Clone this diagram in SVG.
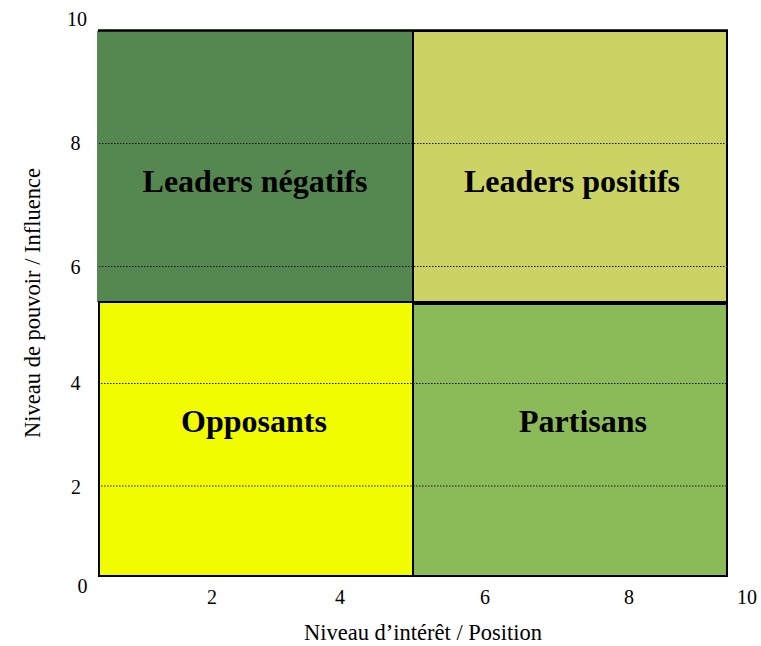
<svg xmlns="http://www.w3.org/2000/svg" width="761" height="646" viewBox="0 0 761 646">
<style>
.q{stroke:#000;stroke-width:2}
.grid{stroke:#1a1a1a;stroke-width:1;stroke-dasharray:1.5 1.5;fill:none}
.lbl{font-family:"Liberation Serif",serif;font-weight:bold;font-size:32px;fill:#000;text-anchor:middle}
.tick{font-family:"Liberation Serif",serif;font-weight:normal;font-size:20px;fill:#000;text-anchor:middle}
.axis{font-family:"Liberation Serif",serif;font-weight:normal;font-size:22.5px;fill:#000;text-anchor:middle}
</style>
<rect width="761" height="646" fill="#fff"/>
<g id="leaders-negatifs">
<rect x="97" y="31" width="316" height="271" fill="#558751"/>
<text class="lbl" x="255" y="192">Leaders négatifs</text>
</g>
<g id="leaders-positifs">
<rect class="q" x="413" y="31" width="314" height="271" fill="#ccd365"/>
<text class="lbl" x="572" y="192">Leaders positifs</text>
</g>
<g id="opposants">
<rect class="q" x="99" y="302" width="314" height="274" fill="#f2fc00"/>
<text class="lbl" x="254" y="432">Opposants</text>
</g>
<g id="partisans">
<rect class="q" x="413" y="304" width="314" height="272" fill="#8bba58"/>
<text class="lbl" x="583" y="432">Partisans</text>
</g>
<g id="frame">
<line x1="98" y1="30.5" x2="728" y2="30.5" stroke="#000" stroke-width="2.5"/>
<line x1="413" y1="30" x2="413" y2="577" stroke="#000" stroke-width="2"/>
<line x1="99" y1="302" x2="728" y2="302" stroke="#000" stroke-width="2"/>
</g>
<g id="gridlines">
<line class="grid" x1="99" y1="143.5" x2="728" y2="143.5"/>
<line class="grid" x1="99" y1="266.5" x2="728" y2="266.5"/>
<line class="grid" x1="101" y1="383.5" x2="726" y2="383.5"/>
<line class="grid" x1="101" y1="486" x2="726" y2="486"/>
</g>
<g id="y-ticks">
<text class="tick" x="77" y="26">10</text>
<text class="tick" x="75.5" y="150">8</text>
<text class="tick" x="75.5" y="274">6</text>
<text class="tick" x="75.5" y="390">4</text>
<text class="tick" x="76" y="494">2</text>
<text class="tick" x="82.5" y="593">0</text>
</g>
<g id="x-ticks">
<text class="tick" x="212" y="604">2</text>
<text class="tick" x="340" y="604">4</text>
<text class="tick" x="485" y="604">6</text>
<text class="tick" x="629" y="604">8</text>
<text class="tick" x="747" y="604">10</text>
</g>
<g id="axis-titles">
<text class="axis" x="423" y="640">Niveau d’intérêt / Position</text>
<text class="axis" transform="translate(40,303) rotate(-90)" x="0" y="0">Niveau de pouvoir / Influence</text>
</g>
</svg>
